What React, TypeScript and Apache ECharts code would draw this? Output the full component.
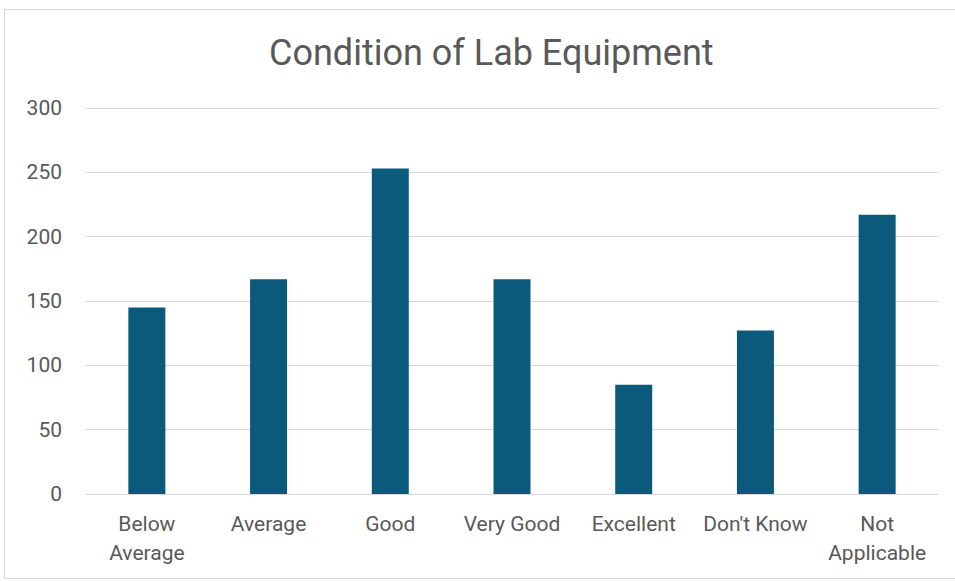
import React, { useEffect, useRef } from "react";
import * as echarts from "echarts";

const categories = ["Below\nAverage", "Average", "Good", "Very Good", "Excellent", "Don't Know", "Not\nApplicable"];
const counts = [145, 167, 253, 167, 85, 127, 217];
const yTicks = [0, 50, 100, 150, 200, 250, 300];

const FONT = "'Roboto', sans-serif";

export default function App() {
  const ref = useRef<HTMLDivElement>(null);
  useEffect(() => {
    if (!ref.current) return;
    const chart = echarts.init(ref.current, undefined, { renderer: "svg" });
    chart.setOption({
      animation: false,
      backgroundColor: "#ffffff",
      title: {
        text: "Condition of Lab Equipment",
        left: 264,
        top: 30,
        textStyle: { fontFamily: FONT, fontSize: 36, fontWeight: "normal", color: "#595959" },
      },
      graphic: [
        {
          type: "rect",
          shape: { x: 4.5, y: 9.5, width: 960, height: 569 },
          style: { fill: "none", stroke: "#d9d9d9", lineWidth: 1 },
          silent: true,
        },
      ],
      grid: { left: 86, right: 17, top: 108, bottom: 87, containLabel: false },
      xAxis: {
        type: "category",
        data: categories,
        axisLine: { show: true, lineStyle: { color: "#d9d9d9", width: 1 } },
        axisTick: { show: false },
        axisLabel: {
          color: "#595959",
          fontFamily: FONT,
          fontSize: 21,
          margin: 15,
          lineHeight: 29,
          interval: 0,
        },
      },
      yAxis: {
        type: "value",
        min: yTicks[0],
        max: yTicks[yTicks.length - 1],
        interval: 50,
        axisLine: { show: false },
        axisTick: { show: false },
        splitLine: { lineStyle: { color: "#d9d9d9", width: 1 } },
        axisLabel: { color: "#595959", fontFamily: FONT, fontSize: 21, margin: 24 },
      },
      series: [
        {
          type: "bar",
          data: counts,
          barWidth: 37,
          itemStyle: { color: "#0b5a7c" },
        },
      ],
    });
    return () => chart.dispose();
  }, []);
  return <div ref={ref} style={{ position: "fixed", left: 0, top: 0, width: 955, height: 581 }} />;
}
